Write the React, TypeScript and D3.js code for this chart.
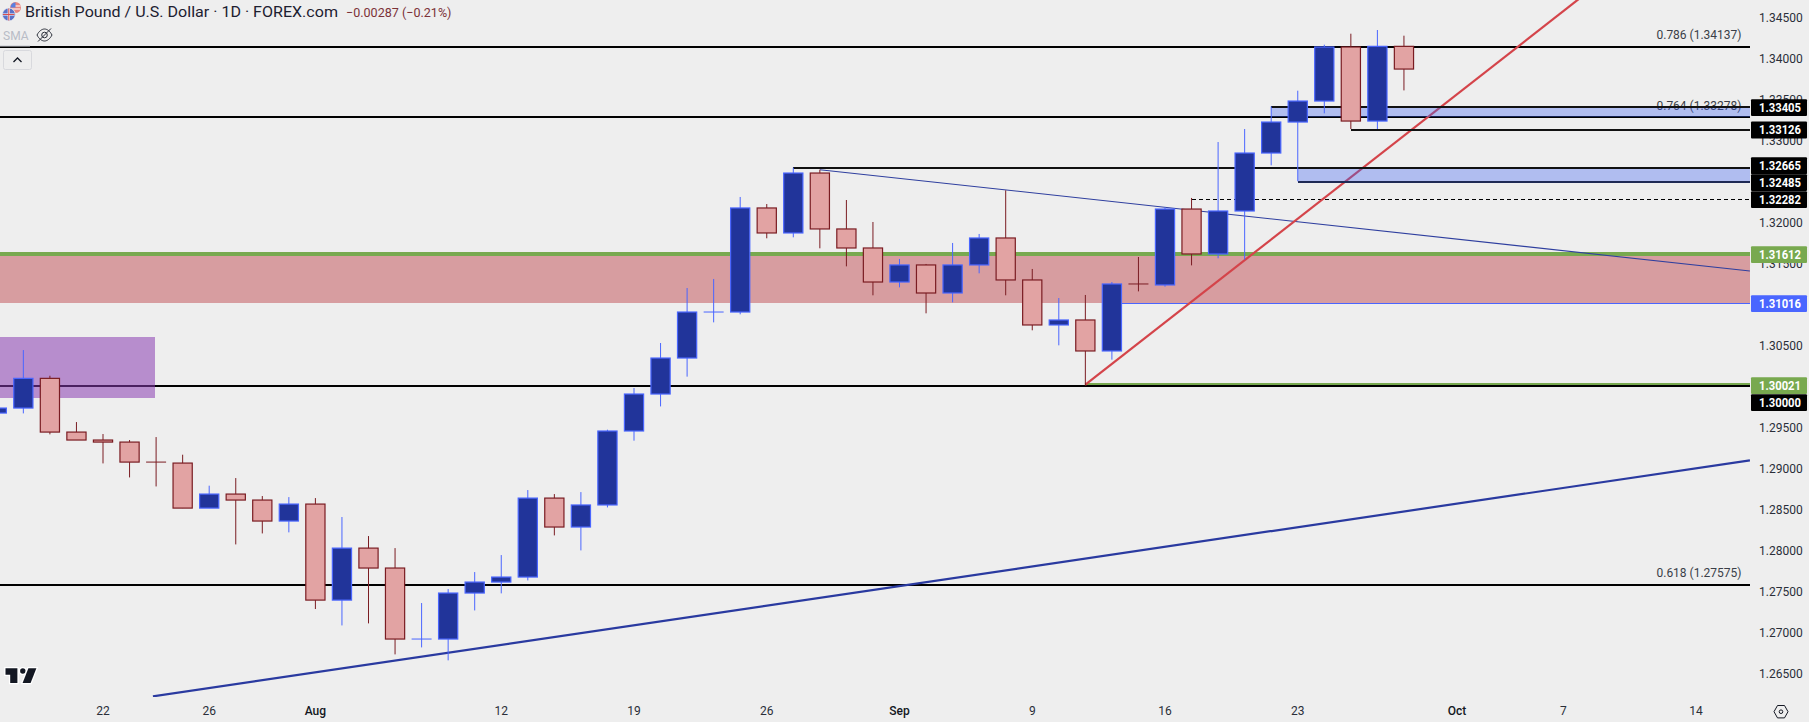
import React from "react";
import * as d3 from "d3";

const WIDTH = 1809;
const HEIGHT = 722;

// Day index 0 = 22 Jul 2024
const barIndex = [-4,-3,-2,-1,0,1,2,3,4,5,6,7,8,9,10,11,12,13,14,15,16,17,18,19,20,21,22,23,24,25,26,27,28,29,30,31,32,33,34,35,36,37,38,39,40,41,42,43,44,45,46,47,48,49];
const opens = [1.29675,1.29736,1.30098,1.29443,1.29346,1.29321,1.29077,1.29065,1.28516,1.28687,1.28614,1.28358,1.28565,1.27394,1.28028,1.27785,1.26919,1.26919,1.2748,1.27614,1.27675,1.28638,1.28285,1.28554,1.29456,1.29907,1.30346,1.30907,1.30907,1.32176,1.31871,1.32602,1.3192,1.31688,1.31273,1.31481,1.31139,1.31481,1.3181,1.31298,1.30749,1.3081,1.30432,1.31249,1.31237,1.32163,1.31615,1.32139,1.32846,1.33224,1.3348,1.34139,1.33236,1.34147];
const highs = [1.29736,1.30443,1.3013,1.29565,1.29419,1.29346,1.29382,1.29167,1.28789,1.28882,1.28663,1.2865,1.28638,1.28407,1.28175,1.28028,1.27358,1.27528,1.27736,1.27943,1.28736,1.28687,1.28711,1.29472,1.2998,1.30529,1.312,1.3131,1.3231,1.32224,1.32668,1.32643,1.32273,1.32005,1.31554,1.31493,1.31749,1.31859,1.32391,1.31432,1.31078,1.31115,1.31273,1.31578,1.32184,1.32298,1.3298,1.33139,1.33415,1.33606,1.34167,1.34301,1.34346,1.34277];
const lows = [1.29675,1.29671,1.29415,1.29346,1.29061,1.2889,1.2878,1.28516,1.28516,1.28073,1.28207,1.2822,1.27285,1.27085,1.2711,1.26732,1.26817,1.26659,1.27268,1.27476,1.27634,1.28183,1.28,1.28524,1.29338,1.29756,1.30119,1.30781,1.30879,1.31806,1.31818,1.31684,1.31464,1.31111,1.31208,1.30891,1.31025,1.31379,1.31111,1.30684,1.30501,1.30009,1.30326,1.31159,1.31216,1.31476,1.31562,1.31546,1.32696,1.32501,1.3333,1.33139,1.33139,1.3361];
const closes = [1.29736,1.30098,1.29443,1.29346,1.29321,1.29077,1.29077,1.28516,1.28687,1.28614,1.28358,1.28565,1.27394,1.28028,1.27785,1.26919,1.26919,1.2748,1.27614,1.27675,1.28638,1.28285,1.28554,1.29456,1.29907,1.30346,1.30907,1.30907,1.32176,1.31871,1.32602,1.3192,1.31688,1.31273,1.31481,1.31139,1.31481,1.3181,1.31298,1.30749,1.3081,1.30432,1.31249,1.31249,1.32163,1.31615,1.32139,1.32846,1.33224,1.3348,1.34139,1.33236,1.34147,1.3387];
const falling = [false,false,true,true,true,true,true,true,false,true,true,false,true,false,true,true,false,false,false,false,false,true,false,false,false,false,false,false,false,true,false,true,true,true,false,true,false,false,true,true,false,true,false,true,false,true,false,false,false,false,false,true,false,true];

const yTicks = [1.345,1.34,1.335,1.33,1.325,1.32,1.315,1.31,1.305,1.3,1.295,1.29,1.285,1.28,1.275,1.27,1.265];
const dateTickIndex = [0,4,8,15,20,25,30,35,40,45,51,55,60];
const dateTickLabels = ["22","26","Aug","12","19","26","Sep","9","16","23","Oct","7","14"];
const dateTickStrong = [false,false,true,false,false,false,true,false,false,false,true,false,false];

const blackLevels = [1.34137,1.33278,1.30,1.27575];
const segmentLevels = [1.33405,1.33126,1.32665,1.32485];
const segmentStarts = [44,47,26,45];
const dashedLevel = 1.32282;
const dashedStart = 41;

const fibLabels = ["0.786 (1.34137)","0.764 (1.33278)","0.618 (1.27575)"];
const fibLevels = [1.34137,1.33278,1.27575];
const fibOffsets = [-12,-12,-12.5];

const priceTags = ["1.33405","1.33126","1.32665","1.32485","1.32282","1.31612","1.31016","1.30021","1.30000"];
const priceTagCentres = [1.33399,1.33127,1.32691,1.32484,1.32277,1.31606,1.31009,1.30009,1.29801];
const priceTagColors = ["#000","#000","#000","#000","#000","#78a94f","#4a66ff","#78a94f","#000"];

const trendThin = [[27,1.32643],[62.03,1.31407]];
const trendThick = [[1.88,1.2622],[62.03,1.29098]];
const trendRed = [[37,1.30021],[56,1.34829]];

const PLOT_RIGHT = 1750;
const PLOT_BOTTOM = 697;

const x = d3.scaleLinear().domain([0, 60]).range([103, 1696]);
const y = d3.scaleLinear().domain([1.3, 1.265]).range([386.4, 673.4]);
const snap = (p: number) => Math.round(y(p) - 0.2);
const UP_FILL = "#21349a";
const UP_LINE = "#4a66ff";
const DOWN_FILL = "#e2a3a3";
const DOWN_LINE = "#7a1c22";
const FONT = "Roboto, 'Liberation Sans', sans-serif";

const trendPath = d3.line<number[]>().x((d) => x(d[0])).y((d) => y(d[1]));

export default function App() {
  return (
    <svg
      width={WIDTH}
      height={HEIGHT}
      viewBox={`0 0 ${WIDTH} ${HEIGHT}`}
      style={{ position: "absolute", left: 0, top: 0, display: "block" }}
      fontFamily={FONT}
    >
      <defs>
        <clipPath id="plot"><rect x={0} y={0} width={PLOT_RIGHT} height={PLOT_BOTTOM} /></clipPath>
      </defs>
      <rect width={WIDTH} height={HEIGHT} fill="#eeeeee" />

      {/* y axis labels */}
      {yTicks.map((t) => (
        <text key={t} x={1759} y={y(t) + 0.4} dy="0.36em" fontSize={12} fill="#2a2e39">{t.toFixed(5)}</text>
      ))}
      {/* x axis labels */}
      {dateTickIndex.map((d, i) => (
        <text key={i} x={x(d)} y={711} dy="0.36em" textAnchor="middle" fontSize={12} fill={dateTickStrong[i] ? "#131722" : "#2a2e39"} fontWeight={dateTickStrong[i] ? 500 : 400}>{dateTickLabels[i]}</text>
      ))}

      <g clipPath="url(#plot)">
        {/* fib labels */}
        {fibLabels.map((l, i) => (
          <text key={l} x={1741.5} y={y(fibLevels[i]) + fibOffsets[i]} dy="0.36em" textAnchor="end" fontSize={12} fill="#3a3e48">{l}</text>
        ))}

        {/* red supply zone */}
        <rect x={0} y={snap(1.31612)} width={PLOT_RIGHT} height={snap(1.31016) - snap(1.31612)} fill="#d79da0" shapeRendering="crispEdges" />
        <line x1={0} x2={PLOT_RIGHT} y1={snap(1.31612)} y2={snap(1.31612)} stroke="#78a94f" strokeWidth={4} shapeRendering="crispEdges" />
        <line x1={x(38)} x2={PLOT_RIGHT} y1={snap(1.31016) + 0.5} y2={snap(1.31016) + 0.5} stroke={UP_LINE} strokeWidth={1} shapeRendering="crispEdges" />

        {/* black levels */}
        {blackLevels.map((l) => (
          <line key={l} x1={0} x2={PLOT_RIGHT} y1={snap(l)} y2={snap(l)} stroke="#000" strokeWidth={2} shapeRendering="crispEdges" />
        ))}
        <line x1={x(37)} x2={PLOT_RIGHT} y1={snap(1.30021) - 0.5} y2={snap(1.30021) - 0.5} stroke="#78a94f" strokeWidth={2} shapeRendering="crispEdges" />
        <line x1={x(dashedStart)} x2={PLOT_RIGHT} y1={snap(dashedLevel) + 0.5} y2={snap(dashedLevel) + 0.5} stroke="#000" strokeWidth={1} strokeDasharray="4 3" shapeRendering="crispEdges" />

        {/* purple box */}
        <rect x={0} y={337} width={155} height={60.7} fill="rgba(137,60,178,0.54)" shapeRendering="crispEdges" />

        {/* trendlines */}
        <path d={trendPath(trendThin) as string} fill="none" stroke="#2f3f9f" strokeWidth={1.1} />
        <path d={trendPath(trendThick) as string} fill="none" stroke="#2a3aa0" strokeWidth={2.2} />
        <path d={trendPath(trendRed) as string} fill="none" stroke="#d4444a" strokeWidth={2.2} />

        {/* blue zones */}
        <rect x={x(44)} y={snap(1.33405)} width={PLOT_RIGHT - x(44)} height={snap(1.33278) - snap(1.33405)} fill="rgba(61,98,243,0.35)" shapeRendering="crispEdges" />
        <rect x={x(45)} y={snap(1.32665)} width={PLOT_RIGHT - x(45)} height={snap(1.32485) - snap(1.32665)} fill="rgba(61,98,243,0.35)" shapeRendering="crispEdges" />
        {segmentLevels.map((l, i) => (
          <line key={l} x1={x(segmentStarts[i])} x2={PLOT_RIGHT} y1={snap(l)} y2={snap(l)} stroke={l === 1.32485 ? "#1f2a55" : "#111"} strokeWidth={2} shapeRendering="crispEdges" />
        ))}

        {/* candles */}
        {barIndex.map((d, i) => {
          const c = x(d);
          const down = falling[i];
          const top = y(Math.max(opens[i], closes[i]));
          const bottom = y(Math.min(opens[i], closes[i]));
          const stroke = down ? DOWN_LINE : UP_LINE;
          const doji = bottom - top < 0.5;
          return (
            <g key={d}>
              <line x1={c} x2={c} y1={y(highs[i])} y2={y(lows[i])} stroke={stroke} strokeWidth={1} />
              {doji ? (
                <line x1={c - 10} x2={c + 10} y1={top} y2={top} stroke={stroke} strokeWidth={1} />
              ) : (
                <rect x={c - 9.6} y={top} width={19.2} height={bottom - top} fill={down ? DOWN_FILL : UP_FILL} stroke={stroke} strokeWidth={1.2} />
              )}
            </g>
          );
        })}
      </g>

      {/* price tags */}
      {priceTags.map((t, i) => (
        <g key={t}>
          <rect x={1751} y={y(priceTagCentres[i]) - 8.4} width={56} height={16.8} rx={1} fill={priceTagColors[i]} />
          <text x={1759} y={y(priceTagCentres[i])} dy="0.36em" fontSize={12} fontWeight={700} fill="#fff" textLength={42} lengthAdjust="spacingAndGlyphs">{t}</text>
        </g>
      ))}

      {/* header */}
      <circle cx={15.5} cy={7.5} r={5.5} fill="#e8857f" />
      <path d="M10.5 6h10M11 9h9" stroke="#fff" strokeWidth={1.2} />
      <path d="M10.5 7.5a5 5 0 0 1 5-5v5z" fill="#5a7fe0" />
      <circle cx={8.8} cy={14.5} r={6.5} fill="#5a72c8" stroke="#eeeeee" strokeWidth={0.8} />
      <path d="M3 14.5h11.5M8.8 8.5v12" stroke="#fff" strokeWidth={2.2} />
      <path d="M3 14.5h11.5M8.8 8.5v12" stroke="#d8504e" strokeWidth={1.1} />
      <text x={25} y={12} dy="0.36em" fontSize={14} fill="#1c2030" textLength={313} lengthAdjust="spacingAndGlyphs">British Pound / U.S. Dollar · 1D · FOREX.com</text>
      <text x={346} y={12} dy="0.36em" fontSize={13} fill="#7c3238" textLength={105.5} lengthAdjust="spacingAndGlyphs">−0.00287 (−0.21%)</text>
      <text x={3} y={35.5} dy="0.36em" fontSize={12} fill="#b8bcc6">SMA</text>
      <path d="M0 46h30" stroke="#c8cad0" strokeWidth={1} />
      <g fill="none" stroke="#2a2e39" strokeWidth={1}>
        <path d="M37 35c2-4 5-6 7.5-6s5.5 2 7.5 6c-2 4-5 6-7.5 6s-5.5-2-7.5-6z" />
        <circle cx={44.5} cy={35} r={2.8} />
        <path d="M38 41.5L51 28.5" />
      </g>
      <rect x={3.5} y={50.5} width={28} height={19} rx={2} fill="#eeeeee" stroke="#d8d9dd" />
      <path d="M13.5 62l4-4 4 4" fill="none" stroke="#131722" strokeWidth={1.3} />

      {/* logo */}
      <g fill="#131722" stroke="#fff" strokeWidth={2.6} paintOrder="stroke" strokeLinejoin="miter">
        <path d="M5.5 668.3H17.4V683H10.2V674.8H5.5Z" />
        <circle cx={22.8} cy={671} r={2.7} />
        <path d="M28.4 668.3H36.4L30.6 683H22.6Z" />
      </g>
      {/* settings */}
      <g fill="none" stroke="#131722" strokeWidth={1}>
        <path d="M1774 711.7l3.5-6.2h7l3.5 6.2-3.5 6.2h-7z" />
        <circle cx={1781} cy={711.7} r={1.8} />
      </g>
    </svg>
  );
}
